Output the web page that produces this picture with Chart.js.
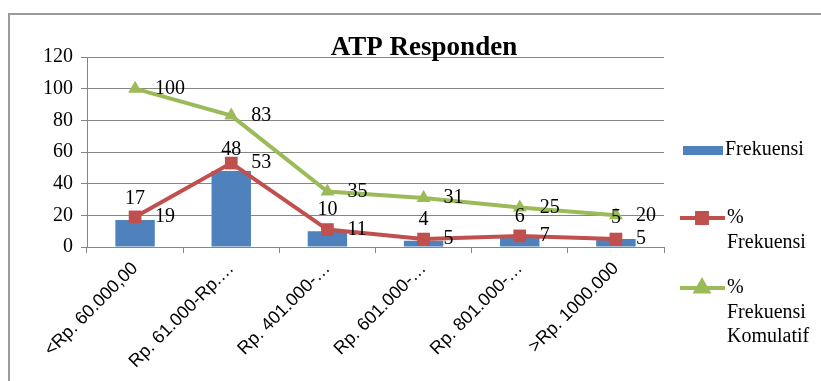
<!DOCTYPE html>
<html>
<head>
<meta charset="utf-8">
<script src="https://cdn.jsdelivr.net/npm/chart.js@4.4.1/dist/chart.umd.min.js"></script>
<style>
  html, body { margin: 0; padding: 0; background: #fff; }
  #wrap { width: 821px; height: 381px; }
</style>
</head>
<body>
<div id="wrap"><canvas id="atpChart" width="821" height="381"></canvas></div>
<script>
const incomeGroups = ['<Rp. 60.000,00', 'Rp. 61.000-Rp.…', 'Rp. 401.000-…', 'Rp. 601.000-…', 'Rp. 801.000-…', '>Rp. 1000.000'];
const frekuensi = [17, 48, 10, 4, 6, 5];
const persenFrekuensi = [19, 53, 11, 5, 7, 5];
const persenKomulatif = [100, 83, 35, 31, 25, 20];
const yTicks = [0, 20, 40, 60, 80, 100, 120];

const BLUE = '#4F81BD';
const RED = '#C0504D';
const GREEN = '#9BBB59';
const GRID = '#868686';
const SERIF = '"Liberation Serif", "Times New Roman", serif';

// outer frame, title and the hand-drawn legend on the right
const frameAndLegend = {
  id: 'frameAndLegend',
  beforeDraw(chart) {
    const ctx = chart.ctx;
    ctx.save();
    ctx.strokeStyle = '#9a9a9a';
    ctx.lineWidth = 2;
    ctx.beginPath();
    ctx.moveTo(9, 381);
    ctx.lineTo(9, 14);
    ctx.lineTo(821, 14);
    ctx.stroke();
    ctx.restore();
  },
  afterDraw(chart) {
    const ctx = chart.ctx;
    const ds = chart.data.datasets;
    ctx.save();
    ctx.fillStyle = '#000';
    ctx.font = 'bold 27px ' + SERIF;
    ctx.textAlign = 'center';
    ctx.textBaseline = 'alphabetic';
    ctx.fillText('ATP Responden', 424, 55);

    ctx.font = '20px ' + SERIF;
    ctx.textAlign = 'left';
    ctx.textBaseline = 'middle';

    // bar entry
    ctx.fillStyle = ds[0].backgroundColor;
    ctx.fillRect(683, 146, 40, 9);
    ctx.fillStyle = '#000';
    ctx.fillText(ds[0].label, 725, 150);

    // line entries
    const lineEntry = (d, y) => {
      ctx.strokeStyle = d.borderColor;
      ctx.lineWidth = 4;
      ctx.beginPath();
      ctx.moveTo(680, y);
      ctx.lineTo(725, y);
      ctx.stroke();
      ctx.fillStyle = d.borderColor;
      Chart.helpers.drawPoint(ctx, {
        pointStyle: d.pointStyle, radius: 7, borderWidth: 1
      }, 702, y);
      ctx.fill();
      ctx.fillStyle = '#000';
      d.label.split('\n').forEach((line, k) => ctx.fillText(line, 727, y + k * 24.5));
    };
    lineEntry(ds[1], 218);
    lineEntry(ds[2], 288);
    ctx.restore();
  }
};

// numbers above the bars and to the right of the line points
const valueLabels = {
  id: 'valueLabels',
  afterDatasetsDraw(chart) {
    const ctx = chart.ctx;
    ctx.save();
    ctx.font = '20px ' + SERIF;
    ctx.fillStyle = '#000';
    ctx.textBaseline = 'middle';
    chart.data.datasets.forEach((d, i) => {
      chart.getDatasetMeta(i).data.forEach((el, j) => {
        if (d.type === 'bar') {
          ctx.textAlign = 'center';
          ctx.fillText(String(d.data[j]), el.x, el.y - 21);
        } else {
          ctx.textAlign = 'left';
          ctx.fillText(String(d.data[j]), el.x + 20, el.y);
        }
      });
    });
    ctx.restore();
  }
};

new Chart(document.getElementById('atpChart'), {
  data: {
    labels: incomeGroups,
    datasets: [
      {
        type: 'bar',
        label: 'Frekuensi',
        data: frekuensi,
        backgroundColor: BLUE,
        categoryPercentage: 1,
        barPercentage: 0.41,
        order: 3
      },
      {
        type: 'line',
        label: '%\nFrekuensi',
        data: persenFrekuensi,
        borderColor: RED,
        backgroundColor: RED,
        borderWidth: 4,
        pointStyle: 'rect',
        pointRadius: 9,
        pointBorderWidth: 0,
        tension: 0,
        order: 1
      },
      {
        type: 'line',
        label: '%\nFrekuensi\nKomulatif',
        data: persenKomulatif,
        borderColor: GREEN,
        backgroundColor: GREEN,
        borderWidth: 4,
        pointStyle: 'triangle',
        pointRadius: 8,
        pointBorderWidth: 0,
        tension: 0,
        order: 2
      }
    ]
  },
  options: {
    responsive: false,
    devicePixelRatio: 1,
    animation: false,
    layout: { padding: { left: 20, top: 57, right: 157, bottom: 0 } },
    plugins: {
      legend: { display: false },
      title: { display: false },
      tooltip: { enabled: false }
    },
    scales: {
      x: {
        offset: true,
        grid: { drawOnChartArea: false, offset: true, tickLength: 6, color: GRID },
        border: { color: GRID, width: 1 },
        ticks: {
          color: '#000',
          font: { family: '"Liberation Sans", Arial, sans-serif', size: 18 },
          minRotation: 45,
          maxRotation: 45,
          autoSkip: false,
          padding: 5
        },
        afterFit: (s) => { s.height = 134; }
      },
      y: {
        min: yTicks[0],
        max: yTicks[yTicks.length - 1],
        afterBuildTicks: (s) => { s.ticks = yTicks.map((v) => ({ value: v })); },
        grid: { color: GRID, tickLength: 6 },
        border: { color: GRID, width: 1 },
        ticks: {
          color: '#000',
          font: { family: SERIF, size: 20 },
          padding: 8
        },
        afterFit: (s) => { s.width = 67; }
      }
    }
  },
  plugins: [frameAndLegend, valueLabels]
});
</script>
</body>
</html>
